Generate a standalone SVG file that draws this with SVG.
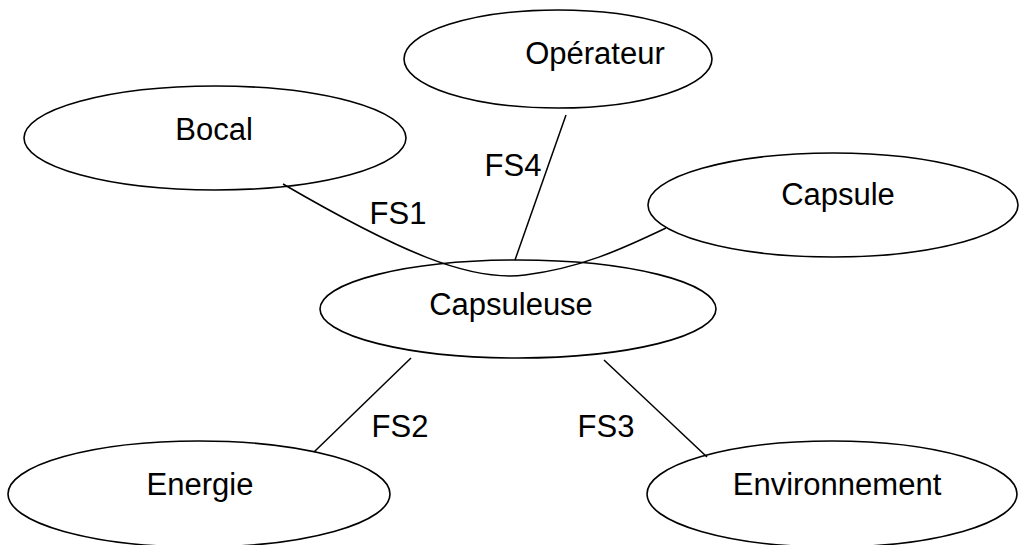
<svg xmlns="http://www.w3.org/2000/svg" width="1019" height="545" viewBox="0 0 1019 545">
<style>
.n{fill:#fff;stroke:#000;stroke-width:1.6}
.c{fill:none;stroke:#000;stroke-width:1.5}
text{font-family:"Liberation Sans",Arial,sans-serif;font-size:31px;fill:#000;text-anchor:middle}
</style>
<rect width="1019" height="545" fill="#fff"/>
<g id="node-bocal"><ellipse class="n" cx="215" cy="138" rx="191" ry="52"/><text x="214" y="140">Bocal</text></g>
<g id="node-operateur"><ellipse class="n" cx="558" cy="59" rx="154" ry="49"/><text x="595" y="64">Opérateur</text></g>
<g id="node-capsule"><ellipse class="n" cx="833" cy="205" rx="185" ry="52"/><text x="838" y="205">Capsule</text></g>
<g id="node-capsuleuse"><ellipse class="n" cx="518" cy="309" rx="198" ry="49"/><text x="511" y="315">Capsuleuse</text></g>
<g id="node-energie"><ellipse class="n" cx="199" cy="494" rx="191" ry="53"/><text x="200" y="495">Energie</text></g>
<g id="node-environnement"><ellipse class="n" cx="832" cy="494" rx="185" ry="53"/><text x="837" y="495">Environnement</text></g>
<g id="connectors">
<path class="c" d="M283,184 C400,252 470,282 525,275 C580,268 620,250 666,228"/>
<line class="c" x1="566" y1="115" x2="515" y2="260"/>
<line class="c" x1="411" y1="358" x2="314" y2="452"/>
<line class="c" x1="604" y1="360" x2="707" y2="457"/>
<text x="398" y="224">FS1</text>
<text x="513" y="176">FS4</text>
<text x="400" y="437">FS2</text>
<text x="606" y="437">FS3</text>
</g>
</svg>
